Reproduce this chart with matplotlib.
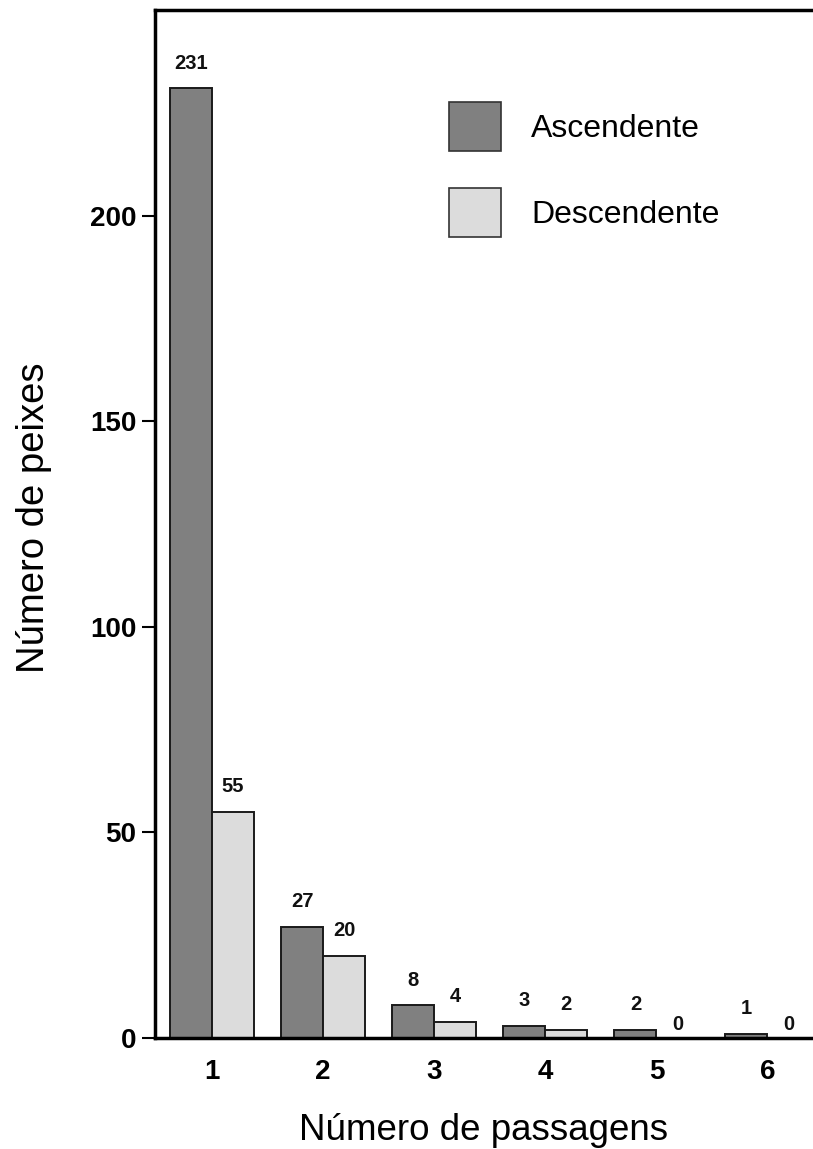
import matplotlib
matplotlib.use("Agg")
import matplotlib.pyplot as plt
import numpy as np
from matplotlib.patches import Patch

plt.rcParams['font.family'] = ['Liberation Sans', 'DejaVu Sans']

categories = [1, 2, 3, 4, 5, 6]
ascendente = [231, 27, 8, 3, 2, 1]
descendente = [55, 20, 4, 2, 0, 0]
yticks = [0, 50, 100, 150, 200]

W, H = 813, 1149
fig = plt.figure(figsize=(W / 100, H / 100), dpi=100)
ax = fig.add_axes([155 / W, 1 - 1038 / H, 1 - 155 / W, (1038 - 10) / H])

x = np.array(categories, dtype=float)
bw = 0.378
dark = '#808080'
light = '#dcdcdc'
b1 = ax.bar(x - bw / 2, ascendente, bw, color=dark, edgecolor='#1a1a1a', linewidth=1.4, zorder=2)
b2 = ax.bar(x + bw / 2, descendente, bw, color=light, edgecolor='#1a1a1a', linewidth=1.4, zorder=2)

for bars, vals in ((b1, ascendente), (b2, descendente)):
    for r, v in zip(bars, vals):
        off = 18 if v > 0 else 9.5
        ax.annotate(str(v), (r.get_x() + r.get_width() / 2, v), xytext=(0, off),
                    textcoords='offset points', ha='center', va='center',
                    fontsize=14.5, fontweight='bold', color='#111111')

ax.set_xlim(0.486, 6.41)
ax.set_ylim(0, 250)
ax.set_yticks(yticks)
ax.set_xticks(categories)
ax.tick_params(axis='y', length=9.5, width=1.5, labelsize=20, pad=4, direction='out')
ax.tick_params(axis='x', length=0, labelsize=20, pad=15)
for lab in ax.get_xticklabels() + ax.get_yticklabels():
    lab.set_fontweight('bold')

for s in ('left', 'top', 'bottom'):
    ax.spines[s].set_linewidth(2.5)
ax.spines['right'].set_visible(False)

ax.set_ylabel('Número de peixes', fontsize=27.5)
ax.yaxis.set_label_coords((52 - 155) / 658, (1038 - 518) / 1028)
ax.set_xlabel('Número de passagens', fontsize=26.5, labelpad=20)

handles = [Patch(facecolor=dark, edgecolor='#333333', linewidth=1.2, label='Ascendente'),
           Patch(facecolor=light, edgecolor='#333333', linewidth=1.2, label='Descendente')]
ax.legend(handles=handles, loc='upper left', bbox_to_anchor=(449 / W, 1 - 102 / H),
          bbox_transform=fig.transFigure, frameon=False, fontsize=23,
          handlelength=1.63, handleheight=2.0, labelspacing=1.15, handletextpad=0.95,
          borderpad=0, borderaxespad=0)

fig.savefig('out.png', dpi=100)
